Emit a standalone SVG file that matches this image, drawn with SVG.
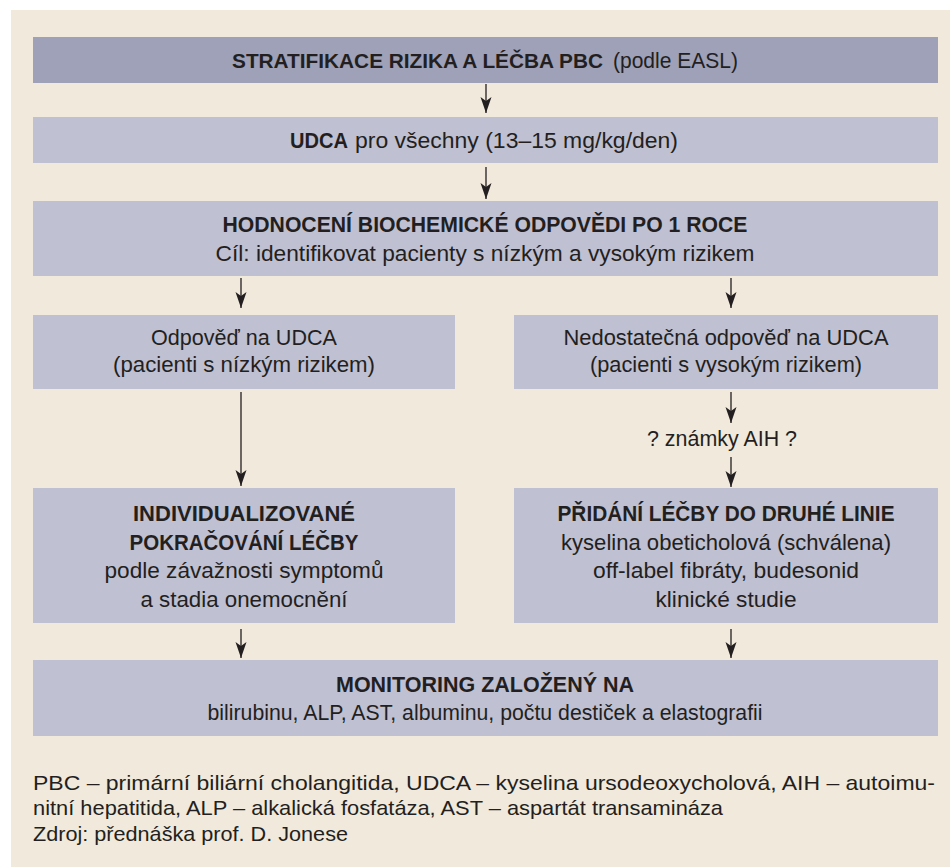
<svg xmlns="http://www.w3.org/2000/svg" width="950" height="867" viewBox="0 0 950 867">
<style>
.bg{fill:#f0e9dc}
.hd{fill:#9ea1b8}
.bx{fill:#bfc0d2}
text{font-family:"Liberation Sans",Arial,sans-serif;font-size:22px;fill:#231f20;text-anchor:middle}
.b{font-weight:bold}
.s{text-anchor:start}
.fn{text-anchor:start;font-size:21px}
.ar{stroke:#231f20;stroke-width:1.3;fill:none;marker-end:url(#ah)}
</style>
<defs>
<marker id="ah" viewBox="0 -6 16 12" refX="16" refY="0" markerWidth="16" markerHeight="12" markerUnits="userSpaceOnUse" orient="auto">
<path d="M0,-5.5 L16,0 L0,5.5 L4,0 Z" fill="#231f20"/>
</marker>
</defs>
<rect class="bg" x="11" y="10" width="939" height="857"/>
<g id="n-title">
<rect class="hd" x="33" y="37" width="905" height="46"/>
<text class="b s" x="232" y="68" textLength="371" lengthAdjust="spacingAndGlyphs" style="font-size:20.5px">STRATIFIKACE RIZIKA A LÉČBA PBC</text>
<text class="s" x="613" y="68" textLength="125" lengthAdjust="spacingAndGlyphs">(podle EASL)</text>
</g>
<g id="n-udca">
<rect class="bx" x="33" y="117" width="905" height="46"/>
<text class="b s" x="290" y="148" textLength="58" lengthAdjust="spacingAndGlyphs">UDCA</text>
<text class="s" x="355" y="148" textLength="323" lengthAdjust="spacingAndGlyphs">pro všechny (13–15 mg/kg/den)</text>
</g>
<g id="n-eval">
<rect class="bx" x="33" y="201" width="905" height="75"/>
<text class="b" x="485" y="232" textLength="525" lengthAdjust="spacingAndGlyphs">HODNOCENÍ BIOCHEMICKÉ ODPOVĚDI PO 1 ROCE</text>
<text x="485" y="261" textLength="539" lengthAdjust="spacingAndGlyphs">Cíl: identifikovat pacienty s nízkým a vysokým rizikem</text>
</g>
<g id="n-resp">
<rect class="bx" x="33" y="315" width="422" height="74"/>
<text x="244" y="345" textLength="186" lengthAdjust="spacingAndGlyphs">Odpověď na UDCA</text>
<text x="244" y="372" textLength="262" lengthAdjust="spacingAndGlyphs">(pacienti s nízkým rizikem)</text>
</g>
<g id="n-noresp">
<rect class="bx" x="514" y="315" width="424" height="74"/>
<text x="726" y="345" textLength="325" lengthAdjust="spacingAndGlyphs">Nedostatečná odpověď na UDCA</text>
<text x="726" y="372" textLength="272" lengthAdjust="spacingAndGlyphs">(pacienti s vysokým rizikem)</text>
</g>
<g id="n-aih">
<text x="722" y="446" textLength="150" lengthAdjust="spacingAndGlyphs">? známky AIH ?</text>
</g>
<g id="n-indiv">
<rect class="bx" x="33" y="488" width="422" height="135"/>
<text class="b" x="244" y="521" textLength="222" lengthAdjust="spacingAndGlyphs">INDIVIDUALIZOVANÉ</text>
<text class="b" x="244" y="550" textLength="229" lengthAdjust="spacingAndGlyphs">POKRAČOVÁNÍ LÉČBY</text>
<text x="244" y="578" textLength="279" lengthAdjust="spacingAndGlyphs">podle závažnosti symptomů</text>
<text x="244" y="607" textLength="207" lengthAdjust="spacingAndGlyphs">a stadia onemocnění</text>
</g>
<g id="n-second">
<rect class="bx" x="514" y="488" width="424" height="135"/>
<text class="b" x="726" y="521" textLength="337" lengthAdjust="spacingAndGlyphs">PŘIDÁNÍ LÉČBY DO DRUHÉ LINIE</text>
<text x="726" y="550" textLength="330" lengthAdjust="spacingAndGlyphs">kyselina obeticholová (schválena)</text>
<text x="726" y="578" textLength="266" lengthAdjust="spacingAndGlyphs">off-label fibráty, budesonid</text>
<text x="726" y="607" textLength="141" lengthAdjust="spacingAndGlyphs">klinické studie</text>
</g>
<g id="n-mon">
<rect class="bx" x="33" y="660" width="905" height="76"/>
<text class="b" x="485" y="692" textLength="298" lengthAdjust="spacingAndGlyphs">MONITORING ZALOŽENÝ NA</text>
<text x="485" y="720" textLength="555" lengthAdjust="spacingAndGlyphs">bilirubinu, ALP, AST, albuminu, počtu destiček a elastografii</text>
</g>
<g id="connectors">
<line class="ar" x1="486" y1="84" x2="486" y2="113"/>
<line class="ar" x1="486" y1="167" x2="486" y2="199"/>
<line class="ar" x1="241" y1="278" x2="241" y2="308"/>
<line class="ar" x1="731" y1="278" x2="731" y2="308"/>
<line class="ar" x1="241" y1="392" x2="241" y2="486"/>
<line class="ar" x1="731" y1="392" x2="731" y2="423"/>
<line class="ar" x1="731" y1="457" x2="731" y2="487"/>
<line class="ar" x1="241" y1="629" x2="241" y2="658"/>
<line class="ar" x1="731" y1="629" x2="731" y2="658"/>
</g>
<g id="footnote">
<text class="fn" x="33" y="790" textLength="902" lengthAdjust="spacingAndGlyphs">PBC – primární biliární cholangitida, UDCA – kyselina ursodeoxycholová, AIH – autoimu-</text>
<text class="fn" x="33" y="815" textLength="690" lengthAdjust="spacingAndGlyphs">nitní hepatitida, ALP – alkalická fosfatáza, AST – aspartát transamináza</text>
<text class="fn" x="33" y="841" textLength="315" lengthAdjust="spacingAndGlyphs">Zdroj: přednáška prof. D. Jonese</text>
</g>
</svg>
